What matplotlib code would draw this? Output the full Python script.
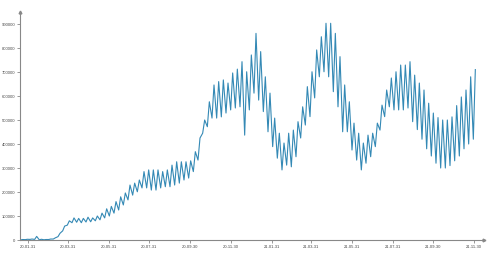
import matplotlib
matplotlib.use("Agg")
import matplotlib.pyplot as plt
import matplotlib.dates as mdates
import pandas as pd
import numpy as np

plt.rcParams["font.family"] = ["Liberation Sans", "DejaVu Sans"]

# weekly highs / lows of daily new cases (thousands), weeks starting Monday 2020-01-20
weekly_high = [2, 3, 4, 15, 3, 2, 4, 9, 28, 58,
               80, 92, 90, 90, 95, 92, 100, 112, 130, 140,
               160, 180, 196, 229, 237, 250, 285, 292, 292, 292,
               285, 292, 312, 326, 326, 326, 330, 368, 425, 500,
               576, 646, 660, 667, 654, 696, 712, 743, 701, 771,
               861, 785, 680, 612, 508, 445, 404, 445, 458, 493,
               555, 639, 701, 792, 847, 903, 903, 861, 764, 646,
               576, 487, 445, 404, 437, 445, 487, 562, 625, 675,
               701, 729, 729, 743, 687, 654, 625, 570, 529, 510,
               500, 500, 513, 560, 596, 625, 680, 710]
weekly_low = [0.5, 1.5, 2.5, 2.5, 0.5, 1, 2, 4, 14, 38,
              62, 72, 74, 72, 75, 76, 80, 84, 92, 100,
              112, 125, 146, 167, 187, 201, 217, 217, 208, 208,
              217, 222, 222, 229, 237, 250, 258, 285, 333, 445,
              472, 508, 508, 513, 529, 542, 550, 555, 437, 542,
              612, 583, 535, 451, 389, 341, 292, 312, 305, 347,
              425, 479, 514, 592, 680, 701, 680, 618, 555, 451,
              451, 375, 333, 292, 320, 347, 389, 458, 514, 555,
              542, 542, 542, 550, 493, 460, 420, 380, 350, 320,
              300, 300, 310, 330, 350, 380, 400, 420]

tick_dates = ["2020-01-31", "2020-03-31", "2020-05-31", "2020-07-31",
              "2020-09-30", "2020-11-30", "2021-01-31", "2021-03-31",
              "2021-05-31", "2021-07-31", "2021-09-30", "2021-11-30"]
y_ticks = [0, 100000, 200000, 300000, 400000, 500000, 600000, 700000, 800000, 900000]

weeks = pd.date_range("2020-01-20", periods=len(weekly_high), freq="7D")
dates, vals = [], []
for w, lo, hi in zip(weeks, weekly_low, weekly_high):
    dates.append(w)
    vals.append(lo * 1000)
    dates.append(w + pd.Timedelta(days=3))
    vals.append(hi * 1000)

fig = plt.figure(figsize=(4.88, 2.54), dpi=100)
ax = fig.add_axes([20 / 488, 1 - 240 / 254, 464 / 488, 228 / 254])

ax.plot(dates, vals, color="#3489b5", lw=0.8)

ax.set_xlim(pd.Timestamp("2020-01-19"), pd.Timestamp("2021-12-15"))
ax.set_ylim(0, 950000)

ax.set_xticks([pd.Timestamp(d) for d in tick_dates])
ax.xaxis.set_major_formatter(mdates.DateFormatter("%y-%m-%d"))
ax.set_yticks(y_ticks)
ax.set_yticklabels([str(v) for v in y_ticks])

for s in ["top", "right"]:
    ax.spines[s].set_visible(False)
for s in ["left", "bottom"]:
    ax.spines[s].set_color("#888888")
    ax.spines[s].set_linewidth(0.8)

ax.tick_params(axis="both", colors="#888888", labelcolor="#444444",
               labelsize=3.0, length=2.5, width=0.6, pad=1.0)

# axis arrowheads
ax.plot(1, 0, ">", transform=ax.transAxes, color="#888888", ms=2, clip_on=False)
ax.plot(0, 1, "^", transform=ax.transAxes, color="#888888", ms=2, clip_on=False)

fig.savefig("out.png", dpi=100)
